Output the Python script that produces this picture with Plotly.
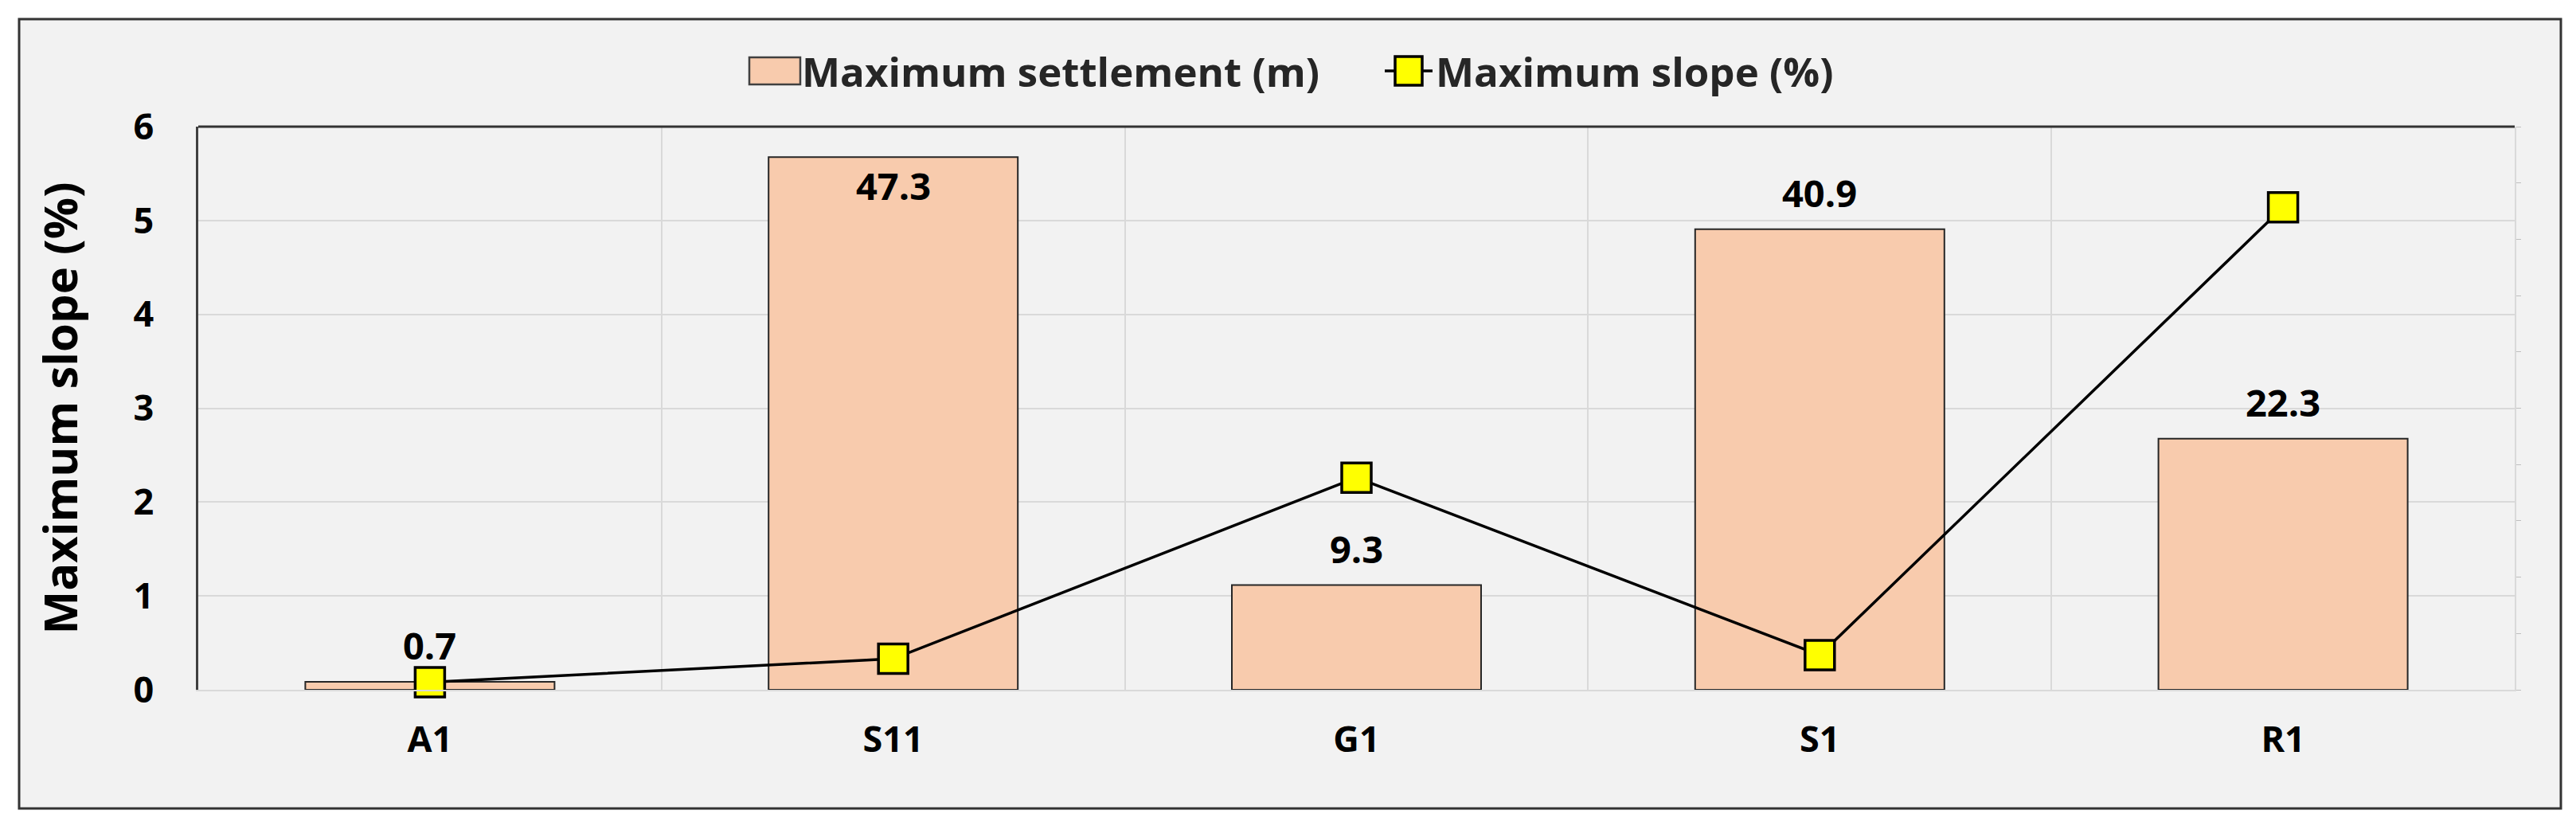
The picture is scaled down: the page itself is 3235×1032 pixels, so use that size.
import plotly.graph_objects as go

# datos
sitios = ["A1", "S11", "G1", "S1", "R1"]
asentamiento_max = [0.7, 47.3, 9.3, 40.9, 22.3]   # m
pendiente_max = [0.08, 0.33, 2.26, 0.37, 5.14]    # %
etiqueta_dentro = [False, True, False, False, False]
nombre_barras = "Maximum settlement (m)"
nombre_linea = "Maximum slope (%)"

FONT = "Open Sans"
GRID = "#D9D9D9"
BAR = "#F8CBAD"
BORDE = "#333333"

# área del gráfico: izquierda 241, derecha 3150, arriba 151, abajo 858 (px)
L, R, T, B = 241, 3150, 151, 858
W, H = 3235, 1032
pw, ph = R - L, B - T


def px_x(p):
    return (p - L) / pw


def px_y(p):
    return (B - p) / ph


fig = go.Figure()

fig.add_trace(go.Bar(
    x=sitios, y=asentamiento_max, name=nombre_barras,
    marker=dict(color=BAR, line=dict(color="#262626", width=2)),
    yaxis="y", showlegend=False,
))

fig.add_trace(go.Scatter(
    x=sitios, y=pendiente_max, name=nombre_linea,
    mode="lines+markers",
    line=dict(color="black", width=3.5),
    marker=dict(symbol="square", size=37, color="#FFFF00",
                line=dict(color="black", width=3.5)),
    cliponaxis=False, yaxis="y2", showlegend=False,
))

# etiquetas de datos de las barras
anots = []
for s, v, dentro in zip(sitios, asentamiento_max, etiqueta_dentro):
    anots.append(dict(
        x=s, y=v, xref="x", yref="y", text=f"{v:.1f}", showarrow=False,
        yanchor="top" if dentro else "bottom",
        yshift=-2 if dentro else 12,
        font=dict(family=FONT, size=47, color="black", weight="bold"),
    ))

# leyenda dibujada a mano (símbolos grandes como en Excel)
ly = 81
anots += [
    dict(x=px_x(997), y=px_y(ly), xref="paper", yref="paper",
         text=nombre_barras, showarrow=False, xanchor="left", yanchor="middle",
         font=dict(family=FONT, size=51, color="#262626", weight="bold")),
    dict(x=px_x(1793), y=px_y(ly), xref="paper", yref="paper",
         text=nombre_linea, showarrow=False, xanchor="left", yanchor="middle",
         font=dict(family=FONT, size=51, color="#262626", weight="bold")),
]

shapes = [
    # fondo y borde del gráfico
    dict(type="rect", xref="paper", yref="paper", layer="below",
         x0=px_x(16), x1=px_x(3208), y0=px_y(1007), y1=px_y(16),
         fillcolor="#F2F2F2", line=dict(color=BORDE, width=3)),
    # línea superior del área de trazado
    dict(type="line", xref="paper", yref="paper", layer="above",
         x0=0, x1=1, y0=1, y1=1, line=dict(color=BORDE, width=3)),
    # símbolos de la leyenda
    dict(type="rect", xref="paper", yref="paper",
         x0=px_x(933), x1=px_x(997), y0=px_y(ly + 17), y1=px_y(ly - 17),
         fillcolor=BAR, line=dict(color="#404040", width=2.5)),
    dict(type="line", xref="paper", yref="paper",
         x0=px_x(1731), x1=px_x(1791), y0=px_y(ly), y1=px_y(ly),
         line=dict(color="black", width=3.5)),
    dict(type="rect", xref="paper", yref="paper",
         x0=px_x(1744), x1=px_x(1778), y0=px_y(ly + 18), y1=px_y(ly - 18),
         fillcolor="#FFFF00", line=dict(color="black", width=3.5)),
]

fig.update_layout(
    width=W, height=H,
    margin=dict(l=L, r=W - R, t=T, b=H - B),
    paper_bgcolor="white",
    plot_bgcolor="rgba(0,0,0,0)",
    bargap=0.462,
    font=dict(family=FONT, color="black"),
    showlegend=False,
    xaxis=dict(
        type="category", showgrid=True, gridcolor=GRID, gridwidth=2,
        tickson="boundaries", ticks="", showline=True, linecolor=GRID,
        linewidth=2, ticklabelstandoff=22,
        tickfont=dict(family=FONT, size=45, color="black", weight="bold"),
    ),
    yaxis=dict(
        range=[0, 50], dtick=5, side="right", showgrid=False,
        showticklabels=False, ticks="outside", ticklen=6, tickcolor="#BFBFBF",
        showline=True, linecolor=GRID, linewidth=2, zeroline=False,
    ),
    yaxis2=dict(
        range=[0, 6], dtick=1, overlaying="y", side="left",
        showgrid=True, gridcolor=GRID, gridwidth=2, zeroline=False,
        showline=True, linecolor="#404040", linewidth=2.5, ticks="",
        ticklabelstandoff=44,
        tickfont=dict(family=FONT, size=45, color="black", weight="bold"),
        title=dict(text=nombre_linea, standoff=52,
                   font=dict(family=FONT, size=58, color="black", weight="bold")),
    ),
    annotations=anots,
    shapes=shapes,
)

fig.write_html("out.html")
